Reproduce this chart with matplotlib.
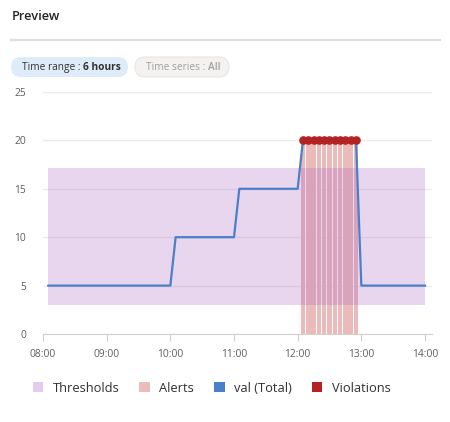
import numpy as np
import matplotlib
matplotlib.use('agg')
import matplotlib.pyplot as plt
from matplotlib.patches import FancyBboxPatch, Patch

plt.rcParams['font.family'] = ['Open Sans', 'DejaVu Sans']

# data
val_times = ["08:05", "10:00", "10:05", "11:00", "11:05", "12:00", "12:05", "12:55", "13:00", "14:00"]
val_values = [5, 5, 10, 10, 15, 15, 20, 20, 5, 5]
violation_times = ["12:05", "12:10", "12:15", "12:20", "12:25", "12:30",
                   "12:35", "12:40", "12:45", "12:50", "12:55"]
violation_values = [20] * 11
alert_times = violation_times
alert_values = [20] * 11
threshold_start, threshold_end = "08:05", "14:00"
threshold_low, threshold_high = 3, 17.1
hour_labels = ["08:00", "09:00", "10:00", "11:00", "12:00", "13:00", "14:00"]
y_ticks = [0, 5, 10, 15, 20, 25]


def hrs(t):
    h, m = t.split(":")
    return int(h) + int(m) / 60.0


W, H = 450, 422
fig = plt.figure(figsize=(W / 100, H / 100), dpi=100)

# overlay in pixel coords for the header bits
ov = fig.add_axes([0, 0, 1, 1])
ov.set_xlim(0, W)
ov.set_ylim(H, 0)
ov.axis('off')

ov.text(12, 17, "Preview", fontsize=9.2, fontweight='semibold', color='#252423', va='center')
ov.plot([11, 440], [40, 40], color='#e1dfdd', lw=1.6)

for x0, x1, fc, ec in [(11, 128, '#deecf9', 'none'), (135, 229, '#f3f2f1', '#e8e6e4')]:
    ov.add_patch(FancyBboxPatch((x0, 57), x1 - x0, 20,
                                boxstyle="round,pad=0,rounding_size=10", fc=fc, ec=ec, lw=0.8))
fig.canvas.draw()
r = fig.canvas.get_renderer()


def chain(x, y, parts):
    for s, c, w in parts:
        t = ov.text(x, y, s, fontsize=7.3, color=c, fontweight=w, va='center')
        bb = t.get_window_extent(renderer=r)
        x += bb.width
    return x


chain(22, 67.5, [("Time range : ", '#323130', 'normal'), ("6 hours", '#323130', 'bold')])
chain(146, 67.5, [("Time series : ", '#a19f9d', 'normal'), ("All", '#a19f9d', 'semibold')])

# chart
ax = fig.add_axes([43 / W, 1 - 334 / H, (432 - 43) / W, (334 - 92) / H])
ax.bar([hrs(t) for t in alert_times], alert_values, width=4.3 / 60,
       color='#ebbaba', lw=0, zorder=2)
ax.fill_between([hrs(threshold_start), hrs(threshold_end)], threshold_low, threshold_high,
                color='#a75fc3', alpha=0.25, lw=0, zorder=2.5)
ax.plot([hrs(t) for t in val_times], val_values, color='#4a80c8', lw=1.6, zorder=3)
ax.plot([hrs(t) for t in violation_times], violation_values, 'o', color='#b42323',
        ms=5.2, mec='#b42323', zorder=4)

ax.set_xlim(8, 14.11)
ax.set_ylim(0, 25)
ax.set_yticks(y_ticks)
ax.set_xticks([hrs(t) for t in hour_labels])
ax.set_xticklabels(hour_labels)
ax.grid(axis='y', color='#edebe9', lw=1, zorder=0)
ax.set_axisbelow(True)
for s in ['top', 'right', 'left']:
    ax.spines[s].set_visible(False)
ax.spines['bottom'].set_color('#d2d0ce')
ax.tick_params(axis='y', length=0, pad=12, labelsize=7.4, labelcolor='#605e5c')
ax.tick_params(axis='x', length=5, color='#d2d0ce', pad=6, labelsize=7.4, labelcolor='#605e5c')

# legend
items = [("Thresholds", '#e3cdef'), ("Alerts", '#ebbcbc'),
         ("val (Total)", '#4a80c8'), ("Violations", '#b42323')]
handles = [Patch(facecolor=c, edgecolor='none', label=l) for l, c in items]
fig.legend(handles=handles, loc='center left', bbox_to_anchor=(21 / W, 1 - 388 / H),
           ncol=4, frameon=False, fontsize=9.3, handlelength=0.8, handleheight=0.8,
           handletextpad=0.75, columnspacing=1.55, labelcolor='#323130')

fig.savefig("out.png", dpi=100)
